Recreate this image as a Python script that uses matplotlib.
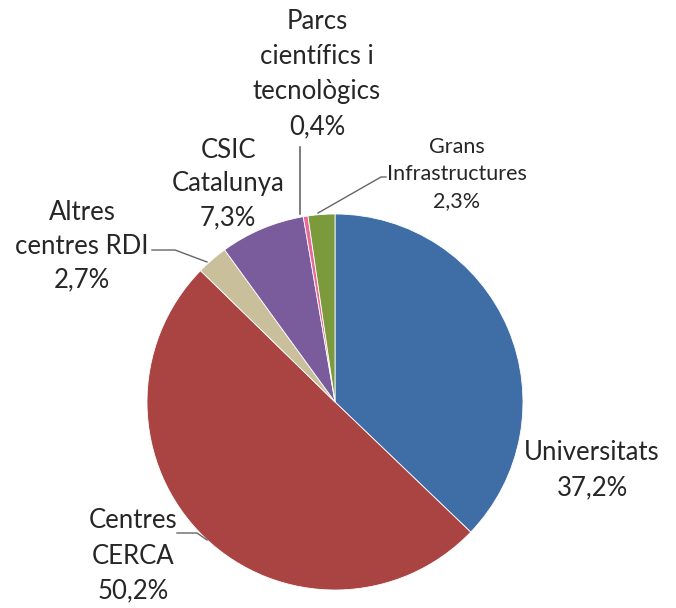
import matplotlib.pyplot as plt

# Data
labels = ['Universitats', 'Centres\nCERCA', 'Altres\ncentres RDI', 'CSIC\nCatalunya',
          'Parcs\ncientífics i\ntecnològics', 'Grans\nInfrastructures']
shares = [37.2, 50.2, 2.7, 7.3, 0.4, 2.3]
pct_labels = ['37,2%', '50,2%', '2,7%', '7,3%', '0,4%', '2,3%']
colors = ['#3f6ea6', '#a94442', '#c9bf9a', '#7a5c9c', '#e8689a', '#7a9a3c']

plt.rcParams['font.family'] = ['Lato', 'DejaVu Sans']

fig = plt.figure(figsize=(6.76, 6.08), dpi=100)
ax = fig.add_axes([0, 0, 1, 1])

H = 608
cx, cy, r = 335, H - 402, 188
ax.pie(shares, colors=colors, startangle=90, counterclock=False,
       center=(cx, cy), radius=r, frame=True,
       wedgeprops=dict(edgecolor='white', linewidth=0.6))
ax.set_xlim(0, 676)
ax.set_ylim(0, 608)
ax.set_aspect('equal')
ax.axis('off')

# label positions (x center, y center in pixels from top), font size, line spacing
pos = [(592, 470, 18.5, 1.5), (133, 556, 18.5, 1.5), (82, 246, 18.5, 1.45),
       (228, 184, 18.5, 1.45), (317, 74, 18.5, 1.5), (457, 174, 15.5, 1.42)]
for lab, pct, (x, y, fs, ls) in zip(labels, pct_labels, pos):
    ax.text(x, H - y, lab + '\n' + pct, ha='center', va='center',
            fontsize=fs, color='#262626', linespacing=ls)

# leader lines
lc = '#666666'
ax.plot([300, 300], [H - 147, H - 214], color=lc, lw=1.2)
ax.plot([386, 381, 318], [H - 177, H - 177, H - 213], color=lc, lw=1)
ax.plot([152, 175, 207], [H - 250, H - 250, H - 262], color=lc, lw=1)
ax.plot([177, 197, 207], [H - 533, H - 533, H - 540], color=lc, lw=1)

fig.savefig('out.png', dpi=100, facecolor='white')
